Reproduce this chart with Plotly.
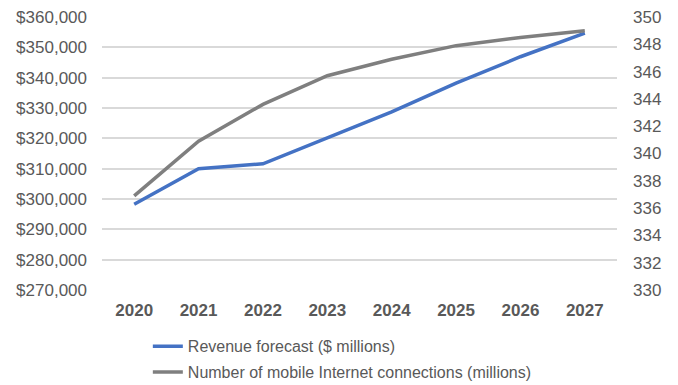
import plotly.graph_objects as go

years = ["2020", "2021", "2022", "2023", "2024", "2025", "2026", "2027"]
revenue = [298300, 310000, 311600, 320100, 328700, 338200, 346900, 354700]
connections = [336.9, 340.9, 343.6, 345.7, 346.9, 347.9, 348.5, 349.0]

font_family = "Liberation Sans, Arial, sans-serif"
txt = "#595959"

fig = go.Figure()
fig.add_trace(go.Scatter(
    x=years, y=revenue, name="Revenue forecast ($ millions)", legendgroup="a",
    mode="lines", line=dict(color="#4472C4", width=3.5), yaxis="y"))
fig.add_trace(go.Scatter(
    x=years, y=connections, name="Number of mobile Internet connections (millions)",
    legendgroup="b",
    mode="lines", line=dict(color="#7F7F7F", width=3.5), yaxis="y2"))

fig.update_layout(
    width=678, height=385,
    margin=dict(l=102, r=61, t=17, b=95, autoexpand=False),
    paper_bgcolor="white", plot_bgcolor="white",
    font=dict(family=font_family, size=17, color=txt),
    xaxis=dict(type="category", range=[-0.5, 7.5], showgrid=False, showline=False,
               zeroline=False, ticks="", ticklabelstandoff=8,
               tickfont=dict(size=17, color=txt, family=font_family, weight="bold")),
    yaxis=dict(range=[270000, 360000], dtick=10000, tickformat="$,.0f",
               showgrid=True, gridcolor="#D9D9D9", gridwidth=1.5,
               zeroline=False, showline=False, ticks="", ticklabelstandoff=14,
               tickfont=dict(size=17, color=txt)),
    yaxis2=dict(range=[330, 350], dtick=2, overlaying="y", side="right",
                showgrid=False, zeroline=False, showline=False, ticks="",
                ticklabelstandoff=15, tickfont=dict(size=17, color=txt)),
    showlegend=True,
    legend=dict(orientation="v", x=0.089, xanchor="left", y=-0.144, yanchor="top",
                font=dict(size=16, color=txt), tracegroupgap=2,
                itemwidth=30, bgcolor="rgba(0,0,0,0)"),
)

fig.write_html("out.html", config={"displayModeBar": False},
               post_script="document.body.style.margin='0px';")
